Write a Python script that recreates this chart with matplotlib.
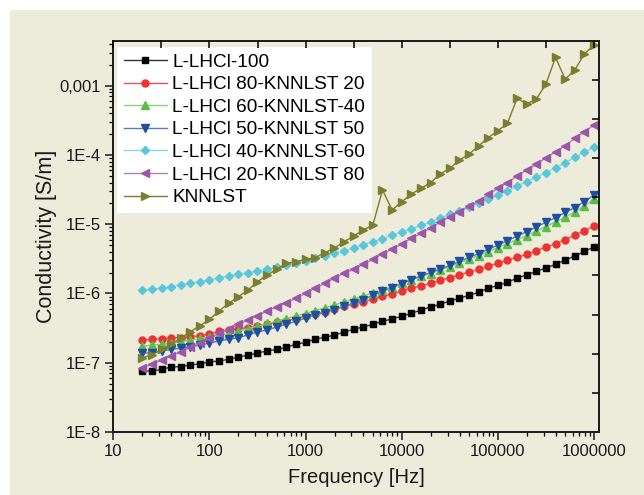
import matplotlib
matplotlib.use("Agg")
import matplotlib.pyplot as plt
from matplotlib.patches import Rectangle
from matplotlib.ticker import FixedLocator, FixedFormatter, LogLocator, NullFormatter

plt.rcParams['font.family'] = ['Liberation Sans', 'DejaVu Sans']

# frequency sweep [Hz]
freq = [20, 25, 32, 40, 50, 63, 79, 100, 126, 158, 200, 251, 316, 398, 501, 631,
        794, 1000, 1259, 1585, 1995, 2512, 3162, 3981, 5012, 6310, 7943, 10000,
        12589, 15849, 19953, 25119, 31623, 39811, 50119, 63096, 79433, 100000,
        125893, 158489, 199526, 251189, 316228, 398107, 501187, 630957, 794328, 1000000]

# conductivity [S/m]
lhcl_100 = [7.6e-8, 7.6e-8, 8.0e-8, 8.7e-8, 8.8e-8, 9.3e-8, 9.6e-8, 1.03e-7, 1.06e-7, 1.12e-7,
            1.21e-7, 1.28e-7, 1.38e-7, 1.48e-7, 1.56e-7, 1.67e-7, 1.85e-7, 1.97e-7, 2.18e-7, 2.35e-7,
            2.49e-7, 2.78e-7, 3.04e-7, 3.28e-7, 3.59e-7, 3.97e-7, 4.28e-7, 4.69e-7, 5.17e-7, 5.77e-7,
            6.38e-7, 6.98e-7, 7.79e-7, 8.52e-7, 9.42e-7, 1.04e-6, 1.19e-6, 1.31e-6, 1.45e-6, 1.67e-6,
            1.85e-6, 2.09e-6, 2.33e-6, 2.64e-6, 3.04e-6, 3.47e-6, 4.06e-6, 4.69e-6]
lhcl_80 = [2.13e-7, 2.18e-7, 2.22e-7, 2.28e-7, 2.30e-7, 2.38e-7, 2.46e-7, 2.60e-7, 2.84e-7, 2.97e-7,
           3.10e-7, 3.21e-7, 3.39e-7, 3.59e-7, 3.84e-7, 4.05e-7, 4.32e-7, 4.73e-7, 5.06e-7, 5.46e-7,
           5.91e-7, 6.59e-7, 6.98e-7, 7.61e-7, 8.24e-7, 9.10e-7, 9.82e-7, 1.09e-6, 1.20e-6, 1.29e-6,
           1.40e-6, 1.55e-6, 1.69e-6, 1.85e-6, 2.04e-6, 2.23e-6, 2.47e-6, 2.73e-6, 3.01e-6, 3.33e-6,
           3.68e-6, 4.15e-6, 4.65e-6, 5.24e-6, 5.98e-6, 6.98e-6, 8.06e-6, 9.42e-6]
lhcl_60 = [1.74e-7, 1.79e-7, 1.85e-7, 1.91e-7, 2.01e-7, 2.13e-7, 2.24e-7, 2.35e-7, 2.52e-7, 2.64e-7,
           2.87e-7, 3.12e-7, 3.36e-7, 3.69e-7, 4.01e-7, 4.35e-7, 4.73e-7, 5.14e-7, 5.68e-7, 6.17e-7,
           6.82e-7, 7.53e-7, 8.32e-7, 9.19e-7, 1.02e-6, 1.12e-6, 1.26e-6, 1.42e-6, 1.59e-6, 1.76e-6,
           1.94e-6, 2.18e-6, 2.45e-6, 2.75e-6, 3.15e-6, 3.53e-6, 4.04e-6, 4.61e-6, 5.27e-6, 6.02e-6,
           6.87e-6, 7.98e-6, 9.27e-6, 1.08e-5, 1.27e-5, 1.50e-5, 1.83e-5, 2.31e-5]
lhcl_50 = [1.37e-7, 1.40e-7, 1.48e-7, 1.56e-7, 1.62e-7, 1.70e-7, 1.79e-7, 1.93e-7, 2.06e-7, 2.18e-7,
           2.31e-7, 2.52e-7, 2.78e-7, 2.97e-7, 3.28e-7, 3.59e-7, 3.97e-7, 4.43e-7, 4.89e-7, 5.31e-7,
           5.87e-7, 6.49e-7, 7.17e-7, 8.05e-7, 9.51e-7, 1.07e-6, 1.22e-6, 1.39e-6, 1.59e-6, 1.79e-6,
           2.01e-6, 2.26e-6, 2.54e-6, 2.90e-6, 3.31e-6, 3.78e-6, 4.34e-6, 5.01e-6, 5.78e-6, 6.76e-6,
           7.80e-6, 9.12e-6, 1.07e-5, 1.25e-5, 1.48e-5, 1.74e-5, 2.13e-5, 2.64e-5]
lhcl_40 = [1.12e-6, 1.15e-6, 1.19e-6, 1.23e-6, 1.33e-6, 1.40e-6, 1.48e-6, 1.57e-6, 1.69e-6, 1.79e-6,
           1.89e-6, 2.00e-6, 2.11e-6, 2.23e-6, 2.44e-6, 2.58e-6, 2.73e-6, 2.97e-6, 3.22e-6, 3.48e-6,
           3.80e-6, 4.11e-6, 4.49e-6, 5.06e-6, 5.59e-6, 6.12e-6, 6.99e-6, 7.65e-6, 8.53e-6, 9.65e-6,
           1.08e-5, 1.23e-5, 1.39e-5, 1.55e-5, 1.79e-5, 2.00e-5, 2.31e-5, 2.64e-5, 3.02e-5, 3.56e-5,
           4.11e-5, 4.76e-5, 5.54e-5, 6.55e-5, 7.73e-5, 9.25e-5, 1.09e-4, 1.30e-4]
lhcl_20 = [8.48e-8, 9.50e-8, 1.10e-7, 1.25e-7, 1.44e-7, 1.67e-7, 1.91e-7, 2.25e-7, 2.66e-7, 3.04e-7,
           3.59e-7, 4.14e-7, 4.78e-7, 5.58e-7, 6.44e-7, 7.36e-7, 8.52e-7, 1.01e-6, 1.19e-6, 1.40e-6,
           1.66e-6, 1.96e-6, 2.23e-6, 2.64e-6, 3.12e-6, 3.72e-6, 4.39e-6, 5.18e-6, 6.26e-6, 7.39e-6,
           8.73e-6, 1.08e-5, 1.28e-5, 1.52e-5, 1.81e-5, 2.14e-5, 2.70e-5, 3.30e-5, 3.98e-5, 4.97e-5,
           6.07e-5, 7.33e-5, 9.13e-5, 1.11e-4, 1.36e-4, 1.74e-4, 2.17e-4, 2.71e-4]
knnlst = [1.18e-7, 1.29e-7, 1.56e-7, 1.85e-7, 2.25e-7, 2.81e-7, 3.39e-7, 4.24e-7, 5.58e-7, 7.22e-7,
          8.99e-7, 1.12e-6, 1.48e-6, 1.85e-6, 2.23e-6, 2.73e-6, 2.88e-6, 3.12e-6, 3.29e-6, 3.88e-6,
          4.54e-6, 5.59e-6, 6.76e-6, 8.25e-6, 9.75e-6, 3.12e-5, 1.60e-5, 2.11e-5, 2.73e-5, 3.30e-5,
          3.98e-5, 5.31e-5, 6.42e-5, 8.46e-5, 1.03e-4, 1.35e-4, 1.78e-4, 2.24e-4, 2.87e-4, 6.58e-4,
          5.44e-4, 6.43e-4, 1.06e-3, 2.57e-3, 1.24e-3, 1.69e-3, 2.87e-3, 3.93e-3]

labels = ['L-LHCl-100', 'L-LHCl 80-KNNLST 20', 'L-LHCl 60-KNNLST-40', 'L-LHCl 50-KNNLST 50',
          'L-LHCl 40-KNNLST-60', 'L-LHCl 20-KNNLST 80', 'KNNLST']
series = [lhcl_100, lhcl_80, lhcl_60, lhcl_50, lhcl_40, lhcl_20, knnlst]

# (marker, marker colour, line colour, marker size)
styles = [('s', '#000000', '#333333', 4.4),
          ('o', '#ee3232', '#f25050', 5.0),
          ('^', '#5bbd45', '#8ad27a', 5.6),
          ('v', '#1f4fa0', '#5a7cc0', 5.6),
          ('D', '#58c7dc', '#8ad8e6', 4.4),
          ('<', '#9b56a9', '#b47fc2', 5.6),
          ('>', '#7a7f2f', '#7a7f2f', 5.6)]

beige = '#edebd9'
fig = plt.figure(figsize=(6.44, 4.95), dpi=100, facecolor='white')
fig.patches.append(Rectangle((10 / 644, 0), 1, 1 - 10 / 495, transform=fig.transFigure,
                             facecolor=beige, edgecolor='none', zorder=-10))

ax = fig.add_axes([113.3 / 644, 1 - 432 / 495, (599 - 113.3) / 644, (432 - 40.7) / 495])
ax.set_facecolor(beige)

for y, lab, (m, mc, lc, ms) in zip(series, labels, styles):
    ax.plot(freq, y, color=lc, lw=1.0, marker=m, markersize=ms,
            markerfacecolor=mc, markeredgecolor=mc, label=lab)

ax.set_xscale('log')
ax.set_yscale('log')
xlo, xhi = 10, 1.127e6
ylo, yhi = 1e-8, 4.47e-3
ax.set_xlim(xlo, xhi)
ax.set_ylim(ylo, yhi)

ax.xaxis.set_major_locator(FixedLocator([10, 100, 1000, 10000, 100000, 1000000]))
ax.xaxis.set_major_formatter(FixedFormatter(['10', '100', '1000', '10000', '100000', '1000000']))
ax.xaxis.set_minor_locator(LogLocator(base=10, subs=range(2, 10)))
ax.xaxis.set_minor_formatter(NullFormatter())
ax.yaxis.set_major_locator(FixedLocator([1e-8, 1e-7, 1e-6, 1e-5, 1e-4, 1e-3]))
ax.yaxis.set_major_formatter(FixedFormatter(['1E-8', '1E-7', '1E-6', '1E-5', '1E-4', '0,001']))
ax.yaxis.set_minor_locator(LogLocator(base=10, subs=range(2, 10)))
ax.yaxis.set_minor_formatter(NullFormatter())

ax.tick_params(which='major', direction='out', length=6, width=1.1, labelsize=12,
               colors='#1a1a1a', pad=3)
ax.tick_params(which='minor', direction='out', length=3, width=0.9)
for s in ax.spines.values():
    s.set_linewidth(1.4)
    s.set_color('#1a1a1a')

# top and right axes carry their own plain ticks
top = ax.twiny()
top.set_xscale('log')
top.set_xlim(xlo, xhi)
top.xaxis.set_major_locator(FixedLocator([10 ** (1 + 0.5 * k) for k in range(11)]))
top.xaxis.set_minor_locator(FixedLocator([]))
top.tick_params(axis='x', direction='in', length=5, width=1.1, labeltop=False)
right = ax.twinx()
right.set_yscale('log')
right.set_ylim(ylo, yhi)
lg0, lg1 = -8, -2.35
right.yaxis.set_major_locator(FixedLocator([10 ** (lg0 + k * (lg1 - lg0) / 10) for k in range(1, 10)]))
right.yaxis.set_minor_locator(FixedLocator([]))
right.tick_params(axis='y', direction='in', length=5, width=1.1, labelright=False)
for a in (top, right):
    a.set_facecolor('none')
    for s in a.spines.values():
        s.set_visible(False)

ax.set_xlabel('Frequency [Hz]', fontsize=14.5, color='#1a1a1a', labelpad=6)
ax.set_ylabel('Conductivity [S/m]', fontsize=15.5, color='#1a1a1a', labelpad=2)

leg = ax.legend(loc='upper left', bbox_to_anchor=(0.008, 0.985), fontsize=13.7, frameon=True,
                fancybox=False, framealpha=1, edgecolor='none', facecolor='white',
                handlelength=2.25, handletextpad=0.3, labelspacing=0.28, borderpad=0.35,
                borderaxespad=0.0)
leg.set_zorder(5)
right.set_zorder(ax.get_zorder() + 1)
top.set_zorder(ax.get_zorder() + 1)

fig.savefig('out.png', dpi=100, facecolor=fig.get_facecolor())
